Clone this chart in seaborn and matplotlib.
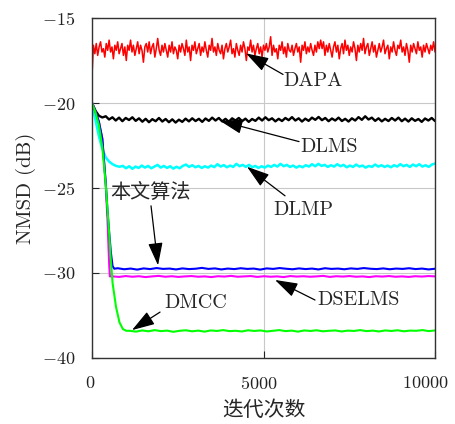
import numpy as np
import matplotlib
matplotlib.use('Agg')
import matplotlib.pyplot as plt
import matplotlib.transforms as mtransforms
import seaborn as sns

# ---- data ----
# DAPA: start value then steady noisy band
dapa_start = -18.4
dapa_nmsd = [
    -16.6, -17.1, -16.5, -17.2, -16.7, -16.4, -17.0, -16.8, -17.3, -16.5,
    -16.9, -16.3, -17.0, -16.7, -17.4, -16.6, -16.9, -16.4, -17.1, -16.8,
    -16.5, -17.2, -16.7, -17.5, -16.6, -16.9, -16.3, -17.0, -16.6, -17.2,
    -16.8, -16.4, -17.1, -16.6, -16.9, -17.6, -16.7, -16.5, -17.0, -16.4,
    -17.1, -16.7, -16.5, -17.3, -16.8, -16.2, -16.9, -17.2, -16.6, -17.0,
    -16.5, -16.9, -17.3, -16.6, -17.0, -16.4, -17.1, -16.7, -16.9, -17.4,
    -16.6, -17.0, -16.5, -16.8, -17.2, -16.3, -17.0, -16.7, -17.5, -16.6,
    -16.9, -16.4, -17.1, -16.8, -16.5, -17.2, -16.7, -17.0, -16.4, -16.9,
    -17.3, -16.6, -16.9, -16.2, -17.0, -16.7, -17.2, -16.5, -16.9, -17.1,
    -16.6, -17.4, -16.8, -16.5, -17.0, -16.7, -16.3, -17.1, -16.8, -17.3,
    -16.5, -16.9, -17.2, -16.6, -17.0, -16.4, -16.8, -17.5, -16.7, -16.9,
    -16.3, -17.0, -16.6, -17.2, -16.8, -16.5, -17.1, -16.7, -17.3, -16.6,
    -16.9, -16.5, -17.0, -16.7, -16.1, -17.2, -16.6, -17.0, -16.8, -17.4,
    -16.6, -16.9, -16.4, -17.1, -16.7, -17.3, -16.5, -16.9, -17.0, -16.6,
    -17.2, -16.8, -16.5, -17.0, -16.7, -17.6, -16.6, -16.9, -16.4, -17.1,
    -16.7, -17.0, -16.5, -16.9, -17.2, -16.6, -17.0, -16.4, -16.8, -16.3,
    -16.8, -16.4, -17.2, -16.6, -17.0, -16.5, -16.9, -17.3, -16.7, -16.4,
    -17.0, -16.6, -17.4, -16.8, -16.5, -17.1, -16.3, -16.9, -16.6, -17.2,
    -16.7, -17.0, -16.4, -16.8, -17.5, -16.6, -17.0, -16.5, -16.9, -16.2,
    -17.1, -16.7, -16.5, -17.2, -16.8, -16.4, -17.0, -16.6, -17.3, -16.9,
    -16.5, -17.0, -16.7, -16.3, -17.1, -16.8, -16.6, -17.4, -16.7, -17.0,
    -16.4, -16.9, -17.2, -16.6, -16.8, -16.3, -17.0, -16.7, -17.2, -16.5,
    -16.9, -17.6, -16.6, -17.0, -16.5, -16.8, -17.1, -16.4, -16.9, -16.7,
    -17.3, -16.6, -17.0, -16.5, -16.8, -17.1, -16.6, -16.9, -16.4, -17.0,
]

# DLMS
dlms_trans_iter = [0, 100, 200, 300]
dlms_trans = [-20.0, -20.45, -20.75, -20.85]
dlms_nmsd = [
    -20.78, -20.97, -20.84, -21.03, -20.86, -21.07, -20.88, -21.00, -20.84, -21.05,
    -20.90, -21.10, -20.93, -21.13, -20.95, -21.07, -20.88, -21.09, -20.94, -21.13,
    -20.96, -21.15, -20.98, -21.11, -20.92, -21.08, -20.90, -21.06, -20.93, -21.11,
    -20.91, -21.05, -20.86, -21.03, -20.88, -21.08, -20.93, -21.10, -20.90, -21.03,
    -20.88, -21.07, -20.92, -21.11, -20.94, -21.05, -20.86, -21.03, -20.84, -21.01,
    -20.90, -21.08, -20.93, -21.06, -20.88, -21.01, -20.83, -21.03, -20.90, -21.09,
    -20.92, -21.05, -20.86, -20.99, -20.82, -21.01, -20.88, -21.07, -20.91, -21.03,
    -20.86, -21.06, -20.93, -21.09, -20.90, -21.03, -20.83, -20.99, -20.78, -20.97,
    -20.86, -21.05, -20.90, -21.08, -20.93, -21.06, -20.88, -21.03, -20.86, -21.07,
    -20.92, -21.09, -20.90, -21.05, -20.94, -21.11, -20.91, -21.03, -20.88, -21.06,
]

# DLMP
dlmp_trans_iter = [0, 100, 200, 300, 400, 500, 600, 700, 800]
dlmp_trans = [-20.0, -21.0, -21.95, -22.7, -23.2, -23.45, -23.6, -23.7, -23.75]
dlmp_nmsd = [
    -23.70, -23.84, -23.72, -23.87, -23.74, -23.82, -23.68, -23.80, -23.70, -23.84,
    -23.74, -23.64, -23.80, -23.70, -23.82, -23.72, -23.86, -23.75, -23.84, -23.70,
    -23.62, -23.76, -23.66, -23.78, -23.70, -23.82, -23.72, -23.80, -23.68, -23.77,
    -23.60, -23.74, -23.65, -23.78, -23.68, -23.76, -23.58, -23.72, -23.64, -23.76,
    -23.64, -23.78, -23.70, -23.82, -23.72, -23.80, -23.68, -23.76, -23.64, -23.74,
    -23.58, -23.72, -23.64, -23.76, -23.68, -23.80, -23.70, -23.78, -23.66, -23.74,
    -23.60, -23.72, -23.58, -23.70, -23.64, -23.76, -23.66, -23.74, -23.60, -23.72,
    -23.64, -23.78, -23.68, -23.76, -23.62, -23.74, -23.68, -23.80, -23.70, -23.76,
    -23.62, -23.74, -23.66, -23.76, -23.68, -23.78, -23.66, -23.74, -23.60, -23.72,
    -23.64, -23.76, -23.62, -23.72, -23.60, -23.74, -23.66, -23.76, -23.62, -23.56,
]

# proposed algorithm (本文算法)
prop_trans_iter = [0, 100, 200, 300, 400, 450, 500, 550, 600, 650]
prop_trans = [-20.0, -20.5, -21.1, -22.1, -24.7, -26.3, -27.6, -28.8, -29.6, -29.75]
prop_nmsd = [
    -29.72, -29.78, -29.74, -29.80, -29.73, -29.77, -29.71, -29.76, -29.74, -29.79,
    -29.73, -29.77, -29.75, -29.70, -29.76, -29.73, -29.79, -29.74, -29.77, -29.72,
    -29.76, -29.74, -29.80, -29.73, -29.76, -29.71, -29.75, -29.78, -29.73, -29.77,
    -29.74, -29.79, -29.72, -29.76, -29.74, -29.78, -29.73, -29.76, -29.71, -29.75,
    -29.77, -29.73, -29.78, -29.74, -29.76, -29.72, -29.77, -29.74, -29.79, -29.75,
]

# DSELMS
dselms_trans_iter = [0, 100, 200, 300, 400, 450, 500, 520]
dselms_trans = [-20.0, -20.5, -21.1, -22.1, -24.8, -26.8, -29.5, -30.2]
dselms_nmsd = [
    -30.20, -30.23, -30.18, -30.22, -30.19, -30.24, -30.20, -30.17, -30.22, -30.19,
    -30.23, -30.20, -30.18, -30.22, -30.20, -30.24, -30.19, -30.21, -30.17, -30.22,
    -30.20, -30.18, -30.23, -30.19, -30.22, -30.20, -30.24, -30.18, -30.21, -30.19,
    -30.22, -30.20, -30.17, -30.23, -30.19, -30.21, -30.18, -30.22, -30.20, -30.24,
    -30.19, -30.21, -30.18, -30.22, -30.20, -30.23, -30.19, -30.21, -30.18, -30.20,
]

# DMCC
dmcc_trans_iter = [0, 100, 200, 300, 400, 500, 550, 600, 700, 800, 900, 1000]
dmcc_trans = [-20.0, -20.55, -21.3, -22.6, -24.8, -27.7, -29.3, -30.6, -32.0, -32.9, -33.3, -33.4]
dmcc_nmsd = [
    -33.40, -33.45, -33.38, -33.43, -33.36, -33.42, -33.39, -33.46, -33.40, -33.37,
    -33.43, -33.39, -33.45, -33.38, -33.41, -33.36, -33.42, -33.40, -33.44, -33.37,
    -33.41, -33.38, -33.44, -33.40, -33.36, -33.42, -33.39, -33.45, -33.38, -33.41,
    -33.37, -33.43, -33.40, -33.38, -33.44, -33.39, -33.41, -33.36, -33.42, -33.39,
    -33.44, -33.38, -33.41, -33.37, -33.43, -33.39, -33.40, -33.36, -33.42, -33.38,
]

yticks = [-15, -20, -25, -30, -35]
ytick_labels = ['$-15$', '$-20$', '$-25$', '$-30$', '$-40$']
xticks = [0, 5000, 10000]
xtick_labels = ['$0$', '$5000$', '$10000$']

# ---- style ----
sns.set_style('white')
plt.rcParams['font.family'] = ['cmr10', 'Noto Sans CJK SC', 'DejaVu Sans']
plt.rcParams['mathtext.fontset'] = 'cm'
plt.rcParams['axes.unicode_minus'] = False

fig = plt.figure(figsize=(4.56, 4.24), dpi=100)
ax = fig.add_axes([0.2018, 0.1557, 0.7522, 0.8018])


def series(trans_iter, trans, steady, start):
    it = list(trans_iter) + list(np.linspace(start, 10000, len(steady)))
    return it, list(trans) + list(steady)


x, y = series([0], [dapa_start], dapa_nmsd, 40)
sns.lineplot(x=x, y=y, color='#ff0000', lw=1.1, ax=ax)
x, y = series(dlms_trans_iter, dlms_trans, dlms_nmsd, 400)
sns.lineplot(x=x, y=y, color='black', lw=1.7, ax=ax)
x, y = series(dlmp_trans_iter, dlmp_trans, dlmp_nmsd, 900)
sns.lineplot(x=x, y=y, color='#00ffff', lw=1.8, ax=ax)
x, y = series(dselms_trans_iter, dselms_trans, dselms_nmsd, 600)
sns.lineplot(x=x, y=y, color='#ff00ff', lw=1.5, ax=ax)
x, y = series(prop_trans_iter, prop_trans, prop_nmsd, 750)
sns.lineplot(x=x, y=y, color='#0000ff', lw=1.5, ax=ax)
x, y = series(dmcc_trans_iter, dmcc_trans, dmcc_nmsd, 1100)
sns.lineplot(x=x, y=y, color='#00ff00', lw=1.5, ax=ax)

ax.set_xlim(0, 10000)
ax.set_ylim(-35, -15)
ax.set_xticks(xticks)
ax.set_xticklabels(xtick_labels)
ax.set_yticks(yticks)
ax.set_yticklabels(ytick_labels)
ax.tick_params(direction='in', length=5, width=0.8, pad=12, labelsize=13,
               left=True, bottom=True, colors='#222222')
# the reference's x tick labels sit a little left of their ticks
for lab, dx in zip(ax.get_xticklabels(), [-2, -5, -9.5]):
    lab.set_transform(lab.get_transform() +
                      mtransforms.ScaledTranslation(dx / 100, 0, fig.dpi_scale_trans))
ax.grid(True, color='#c8c8c8', lw=0.8)
ax.set_axisbelow(True)
for s in ax.spines.values():
    s.set_color('#333333')
    s.set_linewidth(1.0)

ax.set_xlabel('迭代次数', fontsize=15, labelpad=6)
ax.set_ylabel('NMSD (dB)', fontsize=15, labelpad=4)

# ---- annotations ----
labels = [
    ('DAPA', (5569, -18.73), (5569, -18.32), (4490, -17.08)),
    ('DLMS', (6064, -22.57), (6035, -22.27), (3732, -21.05)),
    ('DLMP', (5277, -26.28), (5627, -25.46), (4519, -23.75)),
    ('本文算法', (525, -25.28), (1720, -26.05), (1924, -29.55)),
    ('DSELMS', (6560, -31.60), (6501, -31.59), (5335, -30.41)),
    ('DMCC', (2099, -31.77), (1983, -32.30), (1166, -33.36)),
]
for txt, tpos, start, tip in labels:
    ax.text(tpos[0], tpos[1], txt, fontsize=14.5, ha='left', va='center')
    ax.annotate('', xy=tip, xytext=start,
                arrowprops=dict(arrowstyle='-|>,head_length=1.4,head_width=0.45',
                                color='black', lw=0.9, shrinkA=0, shrinkB=0))

fig.savefig('out.png', dpi=100)
